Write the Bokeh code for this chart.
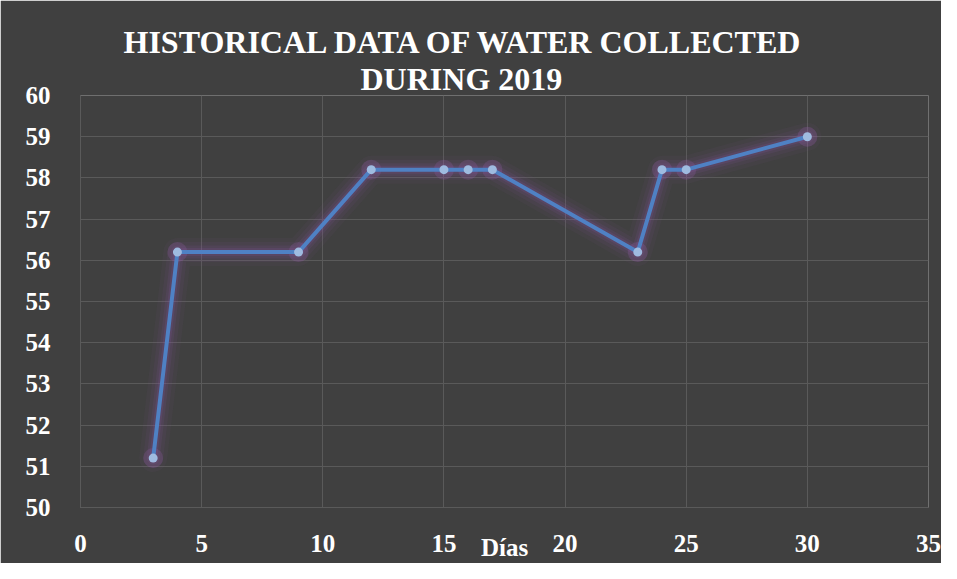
from bokeh.plotting import figure
from bokeh.models import FixedTicker, Title
from bokeh.embed import file_html
from bokeh.resources import INLINE

# Data
dias = [3, 4, 9, 12, 15, 16, 17, 23, 24, 25, 30]
agua = [51.2, 56.2, 56.2, 58.2, 58.2, 58.2, 58.2, 56.2, 58.2, 58.2, 59.0]
x_ticks = [0, 5, 10, 15, 20, 25, 30, 35]
y_ticks = [50, 51, 52, 53, 54, 55, 56, 57, 58, 59, 60]
title_line1 = "HISTORICAL DATA OF WATER COLLECTED"
title_line2 = "DURING 2019"
x_label = "Días"

BG = "#404040"
GRID = "#5a5a5a"
FONT = "Liberation Serif"

p = figure(width=941, height=563, x_range=(0, 35), y_range=(50, 60),
           output_backend="svg", toolbar_location=None,
           background_fill_color=BG, border_fill_color=BG,
           outline_line_color=None,
           min_border_left=80, min_border_right=13,
           min_border_top=95, min_border_bottom=56)

for ax in (p.xaxis[0], p.yaxis[0]):
    ax.axis_line_color = GRID
    ax.major_tick_line_color = None
    ax.minor_tick_line_color = None
    ax.major_label_text_font = FONT
    ax.major_label_text_font_style = "bold"
    ax.major_label_text_font_size = "25px"
    ax.major_label_text_color = "white"

p.xaxis.ticker = FixedTicker(ticks=x_ticks)
p.yaxis.ticker = FixedTicker(ticks=y_ticks)
p.xaxis.major_label_standoff = 21
p.yaxis.major_label_standoff = 24

p.xaxis.axis_label = x_label
p.xaxis.axis_label_text_font = FONT
p.xaxis.axis_label_text_font_style = "bold"
p.xaxis.axis_label_text_font_size = "25px"
p.xaxis.axis_label_text_color = "white"
p.xaxis.axis_label_standoff = -21

p.xgrid.ticker = FixedTicker(ticks=x_ticks)
p.ygrid.ticker = FixedTicker(ticks=y_ticks)
p.xgrid.grid_line_color = GRID
p.ygrid.grid_line_color = GRID

# soft purple glow around the series
for w, a in ((28, 0.06), (20, 0.09), (13, 0.13), (8, 0.18)):
    p.line(dias, agua, line_color="#84539e", line_alpha=a, line_width=w,
           line_join="round", line_cap="round")
p.scatter(dias, agua, size=20, fill_color="#9a5fb0", fill_alpha=0.22, line_color=None)
# main line and markers
p.line(dias, agua, line_color="#4f81c4", line_width=4)
p.scatter(dias, agua, size=9, fill_color="#9fbbe0", line_color=None)

for txt, off, so in ((title_line2, 280, -2), (title_line1, 43, 0)):
    p.add_layout(Title(text=txt, align="left", offset=off, standoff=so,
                       text_font=FONT, text_font_style="bold",
                       text_font_size="32px", text_color="white"), "above")

open("out.html", "w").write(file_html(p, INLINE))
